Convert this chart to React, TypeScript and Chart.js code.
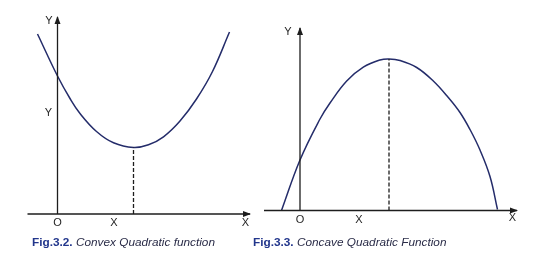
import React, { useEffect, useRef } from 'react';
import { Chart, registerables } from 'chart.js';

Chart.register(...registerables);

// ---------- Fig. 3.2 : convex quadratic ----------
const convexX = [-2.0, 0, 1.25, 2.25, 3.9, 5.6, 7.6, 9.1, 10.6, 12.25, 13.9, 15.5, 17.2];
const convexY = [18.0, 13.8, 11.55, 10.05, 8.25, 7.12, 6.65, 6.92, 7.72, 9.3, 11.5, 14.25, 18.2];
const convexVertex = [7.6, 6.65];
const convexXAxisExtent = [-3.0, 19.25];
const convexYAxisTop = 19.7;
const convexXTicks = [0, 5.65];
const convexXTickLabels = ['O', 'X'];
const convexYTicks = [10.1];
const convexYTickLabels = ['Y'];

// ---------- Fig. 3.3 : concave quadratic ----------
const concaveX = [-1.85, 0, 2.0, 3.0, 4.67, 6.33, 8.0, 8.9, 10.0, 11.67, 13.33, 14.83, 16.0, 17.0, 18.0, 19.0, 19.75];
const concaveY = [0, 5.05, 9.15, 10.75, 12.95, 14.33, 15.05, 15.15, 15.0, 14.3, 12.95, 11.3, 9.8, 8.1, 6.05, 3.4, 0.1];
const concaveVertex = [8.9, 15.15];
const concaveXAxisExtent = [-3.6, 21.7];
const concaveYAxisTop = 18.25;
const concaveXTicks = [0, 5.9];
const concaveXTickLabels = ['O', 'X'];
const concaveYTicks: number[] = [];
const concaveYTickLabels: string[] = [];

const axisTitles = ['X', 'Y'];
const captionNumbers = ['Fig.3.2.', 'Fig.3.3.'];
const captionTexts = ['Convex Quadratic function', 'Concave Quadratic Function'];

const CURVE = '#242c6a';
const AXIS = '#1d1d1d';
const TEXT = '#262626';
const FONT = '"Liberation Sans", Arial, sans-serif';

const decorPlugin = {
  id: 'decor',
  afterDatasetsDraw(chart: any, _args: any, opts: any) {
    const ctx = chart.ctx;
    const xs = chart.scales.x;
    const ys = chart.scales.y;
    const ox = xs.getPixelForValue(0);
    const oy = ys.getPixelForValue(0);
    const xEnd = xs.getPixelForValue(opts.xAxisEnd);
    const yEnd = ys.getPixelForValue(opts.yAxisEnd);
    ctx.save();
    ctx.fillStyle = AXIS;
    ctx.beginPath();
    ctx.moveTo(xEnd + 1, oy);
    ctx.lineTo(xEnd - 7, oy - 3);
    ctx.lineTo(xEnd - 7, oy + 3);
    ctx.closePath();
    ctx.fill();
    ctx.beginPath();
    ctx.moveTo(ox, yEnd - 1);
    ctx.lineTo(ox - 3, yEnd + 7);
    ctx.lineTo(ox + 3, yEnd + 7);
    ctx.closePath();
    ctx.fill();

    ctx.font = `11px ${FONT}`;
    ctx.fillStyle = TEXT;
    ctx.textAlign = 'center';
    ctx.textBaseline = 'middle';
    opts.xTicks.forEach((v: number, i: number) => {
      ctx.fillText(opts.xTickLabels[i], xs.getPixelForValue(v), oy + opts.tickDy);
    });
    opts.yTicks.forEach((v: number, i: number) => {
      ctx.fillText(opts.yTickLabels[i], ox - 9, ys.getPixelForValue(v));
    });
    ctx.fillText(axisTitles[0], xEnd - 4.5, oy + opts.xTitleDy);
    ctx.fillText(axisTitles[1], ox - opts.yTitleDx, yEnd + 4);
    ctx.restore();
  },
};

type PanelProps = {
  width: number;
  xs: number[];
  ys: number[];
  vertex: number[];
  xExtent: number[];
  yTop: number;
  xTicks: number[];
  xTickLabels: string[];
  yTicks: number[];
  yTickLabels: string[];
  xRange: number[];
  yRange: number[];
  yTitleDx: number;
  tickDy: number;
  xTitleDy: number;
};

function Panel(p: PanelProps) {
  const ref = useRef<HTMLCanvasElement>(null);
  useEffect(() => {
    if (!ref.current) return;
    const curve = p.xs.map((x, i) => ({ x, y: p.ys[i] }));
    const chart = new Chart(ref.current, {
      type: 'scatter',
      data: {
        datasets: [
          {
            data: [{ x: p.xExtent[0], y: 0 }, { x: p.xExtent[1], y: 0 }],
            showLine: true,
            borderColor: AXIS,
            borderWidth: 1.3,
            pointRadius: 0,
          },
          {
            data: [{ x: 0, y: 0 }, { x: 0, y: p.yTop }],
            showLine: true,
            borderColor: AXIS,
            borderWidth: 1.3,
            pointRadius: 0,
          },
          {
            data: [{ x: p.vertex[0], y: 0 }, { x: p.vertex[0], y: p.vertex[1] }],
            showLine: true,
            borderColor: AXIS,
            borderWidth: 1.3,
            borderDash: [4, 2],
            pointRadius: 0,
          },
          {
            data: curve,
            showLine: true,
            borderColor: CURVE,
            borderWidth: 1.5,
            pointRadius: 0,
            tension: 0.4,
          } as any,
        ],
      },
      options: {
        animation: false,
        responsive: false,
        events: [],
        layout: { padding: 0 },
        scales: {
          x: { type: 'linear', display: false, min: p.xRange[0], max: p.xRange[1] },
          y: { type: 'linear', display: false, min: p.yRange[0], max: p.yRange[1] },
        },
        plugins: {
          legend: { display: false },
          tooltip: { enabled: false },
          decor: {
            xAxisEnd: p.xExtent[1],
            yAxisEnd: p.yTop,
            xTicks: p.xTicks,
            xTickLabels: p.xTickLabels,
            yTicks: p.yTicks,
            yTickLabels: p.yTickLabels,
            yTitleDx: p.yTitleDx,
            tickDy: p.tickDy,
            xTitleDy: p.xTitleDy,
          },
        } as any,
      },
      plugins: [decorPlugin],
    });
    return () => chart.destroy();
  }, []);
  return <canvas ref={ref} width={p.width} height={271} style={{ display: 'block', width: p.width, height: 271 }} />;
}

function Caption({ left, num, text }: { left: number; num: string; text: string }) {
  return (
    <div
      style={{
        position: 'absolute',
        left,
        top: 236,
        fontFamily: FONT,
        fontSize: 11.8,
        lineHeight: '12px',
        whiteSpace: 'nowrap',
      }}
    >
      <span style={{ fontWeight: 'bold', color: '#22368c' }}>{num}</span>{' '}
      <span style={{ fontStyle: 'italic', color: '#2a2c48' }}>{text}</span>
    </div>
  );
}

export default function App() {
  return (
    <div style={{ position: 'absolute', left: 0, top: 0, width: 544, height: 271, background: '#ffffff', overflow: 'hidden' }}>
      <div style={{ display: 'flex' }}>
        <Panel
          width={258}
          xs={convexX}
          ys={convexY}
          vertex={convexVertex}
          xExtent={convexXAxisExtent}
          yTop={convexYAxisTop}
          xTicks={convexXTicks}
          xTickLabels={convexXTickLabels}
          yTicks={convexYTicks}
          yTickLabels={convexYTickLabels}
          xRange={[-5.75, 20.05]}
          yRange={[-5.7, 21.4]}
          yTitleDx={8.5}
          tickDy={8.5}
          xTitleDy={9}
        />
        <Panel
          width={286}
          xs={concaveX}
          ys={concaveY}
          vertex={concaveVertex}
          xExtent={concaveXAxisExtent}
          yTop={concaveYAxisTop}
          xTicks={concaveXTicks}
          xTickLabels={concaveXTickLabels}
          yTicks={concaveYTicks}
          yTickLabels={concaveYTickLabels}
          xRange={[-4.2, 24.4]}
          yRange={[-6.05, 21.05]}
          yTitleDx={12}
          tickDy={9.5}
          xTitleDy={7.5}
        />
      </div>
      <Caption left={32} num={captionNumbers[0]} text={captionTexts[0]} />
      <Caption left={253} num={captionNumbers[1]} text={captionTexts[1]} />
    </div>
  );
}
